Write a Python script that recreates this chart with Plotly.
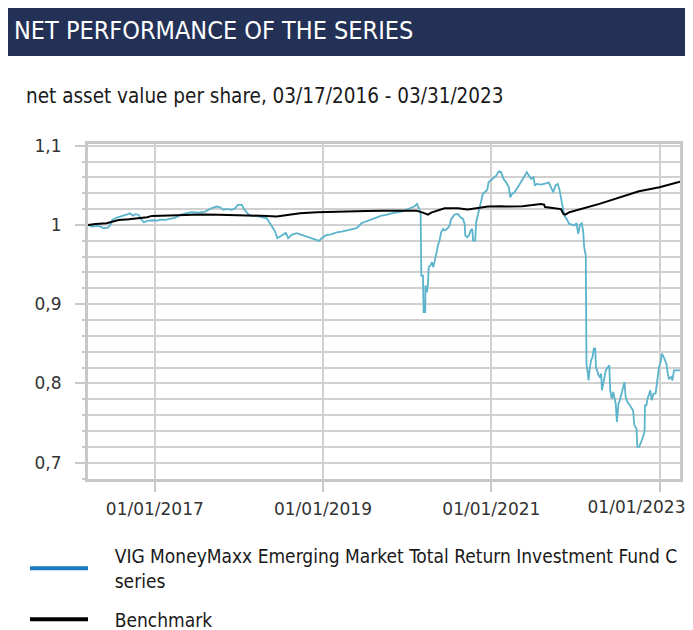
import datetime as dt
import plotly.graph_objects as go

# ---- data (decimal years, NAV per share) ----
fund_years = [
    2016.208, 2016.257, 2016.317, 2016.368, 2016.396, 2016.447, 2016.475, 2016.495, 2016.554, 2016.613,
    2016.672, 2016.712, 2016.740, 2016.771, 2016.811, 2016.830, 2016.870, 2016.910, 2016.969, 2017.028,
    2017.068, 2017.127, 2017.186, 2017.245, 2017.305, 2017.364, 2017.443, 2017.522, 2017.601, 2017.672,
    2017.739, 2017.779, 2017.818, 2017.858, 2017.917, 2017.957, 2017.988, 2018.036, 2018.067, 2018.115,
    2018.154, 2018.194, 2018.253, 2018.292, 2018.332, 2018.372, 2018.411, 2018.431, 2018.458, 2018.490,
    2018.530, 2018.561, 2018.589, 2018.629, 2018.688, 2018.748, 2018.807, 2018.866, 2018.926, 2018.957,
    2018.985, 2019.044, 2019.103, 2019.163, 2019.222, 2019.281, 2019.340, 2019.400, 2019.459, 2019.518,
    2019.577, 2019.637, 2019.696, 2019.755, 2019.814, 2019.874, 2019.933, 2019.992, 2020.051, 2020.091,
    2020.118, 2020.138, 2020.150, 2020.162, 2020.170, 2020.190, 2020.198, 2020.217, 2020.221, 2020.237,
    2020.249, 2020.257, 2020.281, 2020.296, 2020.312, 2020.328, 2020.348, 2020.368, 2020.387, 2020.407,
    2020.427, 2020.447, 2020.478, 2020.506, 2020.526, 2020.565, 2020.604, 2020.636, 2020.664, 2020.684,
    2020.692, 2020.715, 2020.735, 2020.755, 2020.775, 2020.786, 2020.810, 2020.822, 2020.842, 2020.862,
    2020.881, 2020.901, 2020.921, 2020.953, 2020.968, 2020.992, 2021.019, 2021.059, 2021.090, 2021.118,
    2021.146, 2021.178, 2021.209, 2021.225, 2021.249, 2021.276, 2021.316, 2021.356, 2021.395, 2021.423,
    2021.447, 2021.474, 2021.502, 2021.518, 2021.542, 2021.593, 2021.652, 2021.684, 2021.712, 2021.739,
    2021.763, 2021.790, 2021.810, 2021.830, 2021.849, 2021.869, 2021.896, 2021.928, 2021.960, 2021.987,
    2022.015, 2022.035, 2022.055, 2022.079, 2022.094, 2022.106, 2022.126, 2022.133, 2022.150, 2022.157,
    2022.174, 2022.189, 2022.205, 2022.221, 2022.237, 2022.245, 2022.260, 2022.276, 2022.292, 2022.308,
    2022.316, 2022.332, 2022.347, 2022.363, 2022.387, 2022.403, 2022.415, 2022.434, 2022.450, 2022.466,
    2022.482, 2022.494, 2022.514, 2022.529, 2022.553, 2022.573, 2022.585, 2022.600, 2022.620, 2022.648,
    2022.672, 2022.687, 2022.703, 2022.727, 2022.739, 2022.759, 2022.790, 2022.822, 2022.830, 2022.846,
    2022.858, 2022.877, 2022.893, 2022.909, 2022.929, 2022.956, 2022.976, 2022.996, 2023.016, 2023.028,
    2023.043, 2023.067, 2023.083, 2023.099, 2023.115, 2023.138, 2023.154, 2023.174, 2023.202, 2023.245,
]
fund_values = [
    1.0000, 0.9980, 0.9987, 0.9975, 0.9958, 0.9966, 1.0000, 1.0063, 1.0093, 1.0114,
    1.0135, 1.0147, 1.0118, 1.0135, 1.0126, 1.0084, 1.0034, 1.0051, 1.0059, 1.0055,
    1.0067, 1.0063, 1.0076, 1.0093, 1.0126, 1.0147, 1.0160, 1.0156, 1.0168, 1.0210,
    1.0232, 1.0223, 1.0190, 1.0202, 1.0190, 1.0210, 1.0253, 1.0253, 1.0190, 1.0135,
    1.0118, 1.0114, 1.0105, 1.0093, 1.0084, 1.0021, 0.9958, 0.9916, 0.9832, 0.9853,
    0.9874, 0.9899, 0.9832, 0.9874, 0.9895, 0.9874, 0.9853, 0.9832, 0.9819, 0.9798,
    0.9832, 0.9874, 0.9882, 0.9907, 0.9916, 0.9928, 0.9945, 0.9958, 1.0021, 1.0042,
    1.0063, 1.0093, 1.0118, 1.0126, 1.0147, 1.0156, 1.0168, 1.0190, 1.0214, 1.0235,
    1.0265, 1.0223, 1.0180, 1.0160, 0.9360, 0.9360, 0.8900, 0.8900, 0.9236, 0.9150,
    0.9257, 0.9467, 0.9488, 0.9530, 0.9467, 0.9570, 0.9635, 0.9740, 0.9800, 0.9908,
    0.9950, 0.9930, 0.9950, 0.9992, 1.0076, 1.0130, 1.0139, 1.0097, 1.0076, 1.0013,
    0.9866, 0.9845, 0.9866, 0.9929, 0.9950, 0.9803, 0.9803, 1.0034, 1.0139, 1.0244,
    1.0307, 1.0390, 1.0412, 1.0441, 1.0538, 1.0559, 1.0580, 1.0622, 1.0676, 1.0664,
    1.0580, 1.0538, 1.0475, 1.0349, 1.0391, 1.0412, 1.0475, 1.0538, 1.0622, 1.0664,
    1.0622, 1.0580, 1.0600, 1.0496, 1.0517, 1.0508, 1.0525, 1.0538, 1.0475, 1.0412,
    1.0496, 1.0517, 1.0454, 1.0349, 1.0223, 1.0118, 1.0076, 1.0013, 1.0004, 0.9992,
    1.0021, 0.9887, 1.0004, 1.0021, 0.9908, 0.9719, 0.9614, 0.8249, 0.8123, 0.8039,
    0.8207, 0.8291, 0.8333, 0.8438, 0.8438, 0.8207, 0.8165, 0.8102, 0.8081, 0.8123,
    0.7913, 0.8018, 0.8102, 0.8165, 0.8207, 0.8228, 0.7913, 0.7808, 0.7892, 0.7787,
    0.7745, 0.7514, 0.7745, 0.7787, 0.7871, 0.7955, 0.8018, 0.7829, 0.7766, 0.7724,
    0.7682, 0.7661, 0.7472, 0.7430, 0.7199, 0.7199, 0.7283, 0.7388, 0.7724, 0.7724,
    0.7808, 0.7871, 0.7913, 0.7787, 0.7871, 0.7871, 0.8081, 0.8207, 0.8270, 0.8375,
    0.8354, 0.8291, 0.8249, 0.8123, 0.8060, 0.8081, 0.8039, 0.8165, 0.8165, 0.8165,
]

bench_years = [
    2016.208, 2016.300, 2016.430, 2016.573, 2016.692, 2016.811, 2016.910, 2016.969, 2017.166, 2017.364,
    2017.560, 2017.760, 2017.957, 2018.134, 2018.330, 2018.450, 2018.530, 2018.730, 2018.930, 2019.120,
    2019.320, 2019.520, 2019.716, 2019.913, 2020.030, 2020.110, 2020.190, 2020.249, 2020.288, 2020.368,
    2020.447, 2020.604, 2020.720, 2020.842, 2020.960, 2021.120, 2021.180, 2021.370, 2021.490, 2021.590,
    2021.630, 2021.640, 2021.730, 2021.790, 2021.830, 2021.858, 2021.880, 2021.930, 2022.285, 2022.758,
    2023.000, 2023.245,
]
bench_values = [
    1.0000, 1.0013, 1.0020, 1.0063, 1.0072, 1.0084, 1.0097, 1.0114, 1.0122, 1.0126,
    1.0130, 1.0128, 1.0126, 1.0124, 1.0114, 1.0105, 1.0118, 1.0147, 1.0160, 1.0168,
    1.0175, 1.0177, 1.0178, 1.0181, 1.0183, 1.0180, 1.0155, 1.0130, 1.0155, 1.0180,
    1.0210, 1.0210, 1.0195, 1.0214, 1.0231, 1.0235, 1.0231, 1.0235, 1.0252, 1.0265,
    1.0256, 1.0225, 1.0214, 1.0210, 1.0200, 1.0139, 1.0130, 1.0160, 1.0265, 1.0424,
    1.0475, 1.0545,
]

NB = "\u00a0"
fund_name = NB * 4 + "VIG MoneyMaxx Emerging Market Total Return Investment Fund C<br>" + NB * 4 + "series"
bench_name = NB * 4 + "Benchmark"
x_tick_dates = ["2017-01-01", "2019-01-01", "2021-01-01", "2023-01-01"]
x_tick_labels = ["01/01/2017", "01/01/2019", "01/01/2021", "01/01/2023"]
y_tick_vals = [0.7, 0.8, 0.9, 1.0, 1.1]
y_tick_labels = ["0,7", "0,8", "0,9", "1", "1,1"]
x_range = ["2016-03-17", "2023-03-31"]


def to_date(y):
    year = int(y)
    start = dt.datetime(year, 1, 1)
    days = (dt.datetime(year + 1, 1, 1) - start).days
    return (start + dt.timedelta(days=(y - year) * days)).strftime("%Y-%m-%d")


fund_dates = [to_date(v) for v in fund_years]
bench_dates = [to_date(v) for v in bench_years]

# figure is placed at an 8px page offset; all pixel positions below are figure coordinates
W, H = 685, 622
L, R, T, B = 80, 13, 136, 151
pw, ph = W - L - R, H - T - B


def px(xp):
    return (xp - L) / pw


def py(yp):
    return (H - B - yp) / ph


COND = "DejaVu Sans Condensed, Liberation Sans Narrow, sans-serif"
TICKF = "DejaVu Sans, Verdana, sans-serif"
tickfont = dict(family=TICKF, size=17, color="#333333")

fig = go.Figure()
fig.add_trace(go.Scatter(x=fund_dates, y=fund_values, mode="lines",
                         line=dict(color="#5bb4cc", width=1.8),
                         showlegend=False, hoverinfo="skip"))
fig.add_trace(go.Scatter(x=bench_dates, y=bench_values, mode="lines",
                         line=dict(color="#000000", width=2),
                         showlegend=False, hoverinfo="skip"))
# legend entries
fig.add_trace(go.Scatter(x=[None], y=[None], mode="lines", name=fund_name,
                         line=dict(color="#1a78c2", width=4), legendgroup="a"))
fig.add_trace(go.Scatter(x=[None], y=[None], mode="lines", name=bench_name,
                         line=dict(color="#000000", width=4), legendgroup="b"))
# helper trace so the overlay axis (last date label, shifted left to fit) is drawn
fig.add_trace(go.Scatter(x=[None], y=[None], xaxis="x2", showlegend=False, hoverinfo="skip"))

fig.add_shape(type="rect", xref="paper", yref="paper",
              x0=px(-6), x1=px(W), y0=py(48), y1=py(-4),
              fillcolor="#243157", line=dict(width=0), layer="below")
fig.add_annotation(text="NET PERFORMANCE OF THE SERIES", xref="paper", yref="paper",
                   x=px(4), y=py(22), xanchor="left", yanchor="middle", showarrow=False,
                   font=dict(family=COND, size=25, color="white"))
fig.add_annotation(text="net asset value per share, 03/17/2016 - 03/31/2023", xref="paper", yref="paper",
                   x=px(16), y=py(88), xanchor="left", yanchor="middle", showarrow=False,
                   font=dict(family=COND, size=20.5, color="#1a1a1a"))

grid = "#d0d0d0"
fig.update_layout(
    width=W, height=H,
    margin=dict(l=L, r=R, t=T, b=B, autoexpand=False),
    paper_bgcolor="white", plot_bgcolor="white",
    showlegend=True,
    legend=dict(x=px(17), y=py(529), xanchor="left", yanchor="top",
                font=dict(family=COND, size=19, color="#1a1a1a"),
                itemwidth=58, tracegroupgap=11, traceorder="grouped",
                bgcolor="rgba(0,0,0,0)"),
    xaxis=dict(type="date", range=x_range,
               tickvals=x_tick_dates, ticktext=x_tick_labels[:3] + [""],
               showgrid=True, gridcolor=grid, gridwidth=1.6,
               showline=True, linecolor="#c8c8c8", linewidth=3, mirror=True,
               ticks="outside", ticklen=10, tickwidth=2, tickcolor="#c8c8c8",
               ticklabelstandoff=3,
               tickfont=tickfont, zeroline=False),
    xaxis2=dict(type="date", range=x_range, overlaying="x", anchor="y", side="bottom",
                tickvals=x_tick_dates[3:], ticktext=x_tick_labels[3:],
                showgrid=False, showline=False, zeroline=False,
                ticks="outside", ticklen=10, tickwidth=2, tickcolor="#c8c8c8",
                ticklabelstandoff=3, ticklabelshift=-23,
                tickfont=tickfont),
    yaxis=dict(range=[0.6794, 1.1021],
               tickvals=y_tick_vals, ticktext=y_tick_labels,
               showgrid=True, gridcolor=grid, gridwidth=1.6,
               showline=True, linecolor="#c8c8c8", linewidth=3, mirror=True,
               ticks="outside", ticklen=10, tickwidth=2, tickcolor="#c8c8c8",
               ticklabelstandoff=10,
               minor=dict(dtick=0.02, tick0=0.7, showgrid=True, gridcolor=grid, gridwidth=1.6,
                          ticks="outside", ticklen=3, tickwidth=2, tickcolor="#c8c8c8"),
               tickfont=tickfont, zeroline=False),
)

fig.write_html("out.html")
